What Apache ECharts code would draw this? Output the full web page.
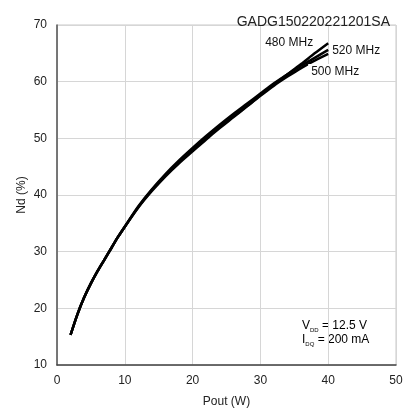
<!DOCTYPE html>
<html>
<head>
<meta charset="utf-8">
<script src="https://cdn.jsdelivr.net/npm/echarts@6/dist/echarts.min.js"></script>
<style>html,body{margin:0;padding:0;background:#fff}#c{width:405px;height:410px}</style>
</head>
<body>
<div id="c"></div>
<script>
var title = 'GADG150220221201SA';
var xName = 'Pout (W)';
var yName = 'Nd (%)';
var xTicks = [0, 10, 20, 30, 40, 50];
var yTicks = [10, 20, 30, 40, 50, 60, 70];
var pout = [2, 3, 4, 5, 6, 7, 8, 9, 10, 12, 14, 16, 18, 20, 22, 24, 26, 28, 30, 32, 34, 36, 38, 40];
var nd480 = [15.3, 18.9, 21.9, 24.4, 26.6, 28.6, 30.6, 32.6, 34.4, 37.9, 40.9, 43.5, 45.9, 48.0, 50.0, 52.0, 53.9, 55.7, 57.6, 59.5, 61.3, 63.1, 65.0, 66.8];
var nd500 = [15.3, 18.9, 21.9, 24.4, 26.6, 28.6, 30.6, 32.6, 34.4, 37.8, 40.7, 43.3, 45.6, 47.7, 49.8, 51.8, 53.7, 55.6, 57.5, 59.3, 60.9, 62.4, 63.7, 64.9];
var nd520 = [15.3, 18.9, 21.9, 24.4, 26.6, 28.6, 30.6, 32.6, 34.4, 38.0, 41.0, 43.7, 46.1, 48.3, 50.4, 52.4, 54.3, 56.1, 57.9, 59.7, 61.3, 62.8, 64.2, 65.6];
var seriesNames = ['480 MHz', '500 MHz', '520 MHz'];

function pairs(ys) { return pout.map(function (x, i) { return [x, ys[i]]; }); }

var font = 'Arial, "Liberation Sans", sans-serif';
var chart = echarts.init(document.getElementById('c'), null, {renderer: 'canvas'});

function mkSeries(name, ys, labelOpt, z) {
  return {
    name: name, type: 'line', data: pairs(ys), smooth: 0.3, showSymbol: false, z: z,
    lineStyle: {color: '#000', width: 2.5},
    endLabel: Object.assign({show: true, formatter: name, color: '#111', fontSize: 12, fontFamily: font}, labelOpt)
  };
}

chart.setOption({
  animation: false,
  backgroundColor: '#fff',
  title: {text: title, right: 10, top: 10, textStyle: {fontSize: 14, fontWeight: 'normal', color: '#222', fontFamily: font}},
  grid: {left: 57, right: 9, top: 25, bottom: 45, show: true, borderColor: '#c8c8c8', borderWidth: 1,
         containLabel: false, outerBoundsMode: 'none'},
  xAxis: {
    type: 'value', min: xTicks[0], max: xTicks[xTicks.length - 1], interval: 10,
    name: xName, nameLocation: 'middle', nameGap: 31, nameMoveOverlap: false,
    nameTextStyle: {fontSize: 12, color: '#222', fontFamily: font},
    axisLine: {lineStyle: {color: '#444', width: 1.5}},
    axisTick: {show: false},
    axisLabel: {fontSize: 12, color: '#222', margin: 10, fontFamily: font},
    splitLine: {lineStyle: {color: '#d6d6d6', width: 1}}
  },
  yAxis: {
    type: 'value', min: yTicks[0], max: yTicks[yTicks.length - 1], interval: 10,
    name: yName, nameLocation: 'middle', nameGap: 29, nameMoveOverlap: false,
    nameTextStyle: {fontSize: 12, color: '#222', fontFamily: font},
    axisLine: {show: true, lineStyle: {color: '#555', width: 1.5}},
    axisTick: {show: false},
    axisLabel: {fontSize: 12, color: '#222', margin: 10, fontFamily: font},
    splitLine: {lineStyle: {color: '#d6d6d6', width: 1}}
  },
  series: [
    mkSeries(seriesNames[0], nd480, {offset: [-71, 0]}, 3),
    mkSeries(seriesNames[1], nd500, {offset: [-28, 18], backgroundColor: '#fff', padding: [2, 3]}, 2),
    mkSeries(seriesNames[2], nd520, {offset: [-4, 1]}, 4)
  ],
  graphic: [{
    type: 'text', left: 302, top: 320,
    style: {
      text: '{m|V}{s|DD}{m| = 12.5 V}\n{m|I}{s|DQ}{m| = 200 mA}',
      fontFamily: font,
      rich: {
        m: {fontSize: 12, color: '#111', lineHeight: 14, fontFamily: font},
        s: {fontSize: 6, color: '#111', lineHeight: 14, verticalAlign: 'bottom', fontFamily: font}
      }
    }
  }]
});
</script>
</body>
</html>
